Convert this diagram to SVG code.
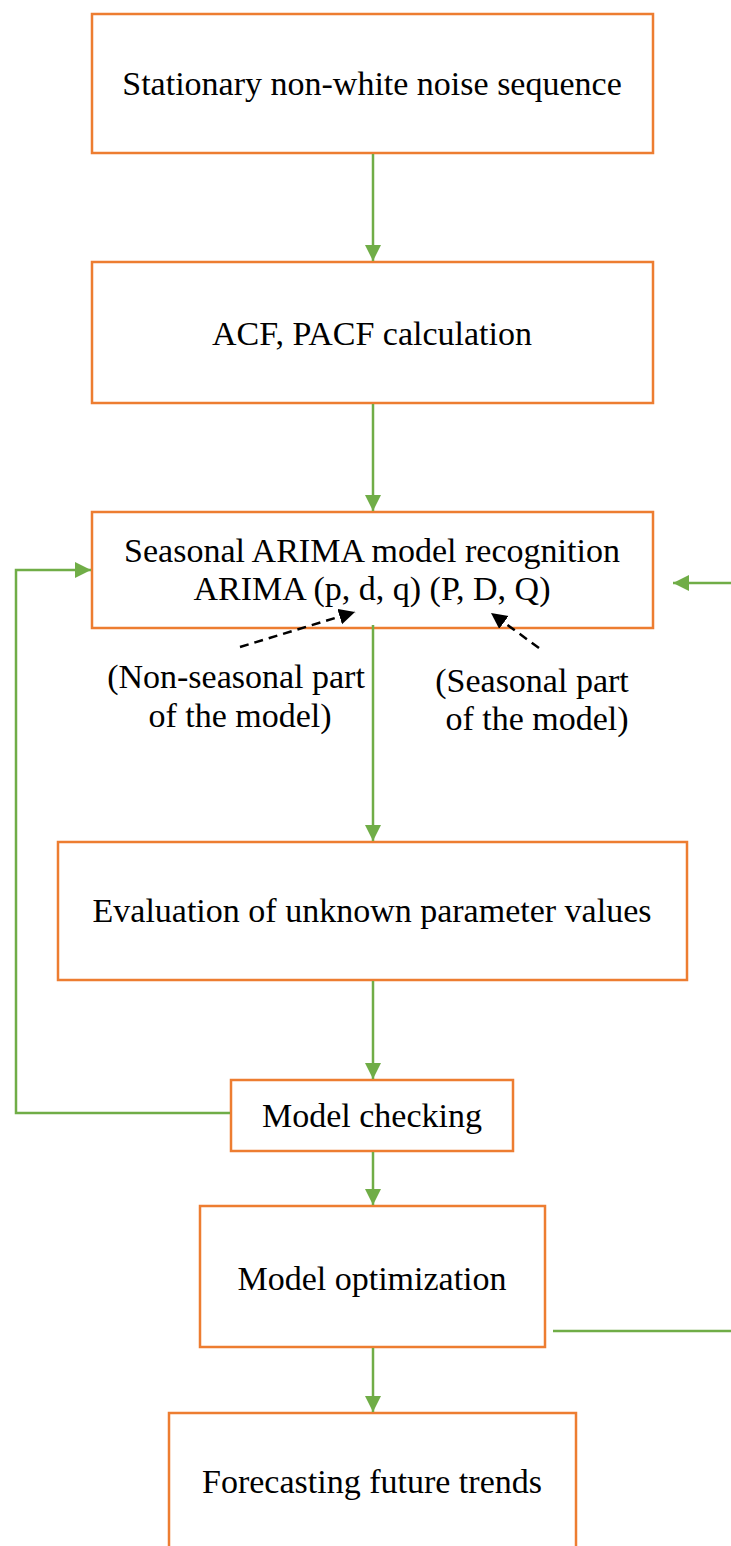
<svg xmlns="http://www.w3.org/2000/svg" width="731" height="1546" viewBox="0 0 731 1546">
<defs>
<style>
.box{fill:#fff;stroke:#ED7D31;stroke-width:2.5}
.t{font-family:"Liberation Serif","Times New Roman",serif;font-size:34px;fill:#000;text-anchor:middle}
.g{fill:none;stroke:#70AD47;stroke-width:2.5}
.d{fill:none;stroke:#000;stroke-width:2.5;stroke-dasharray:9,6}
</style>
<marker id="ga" markerUnits="userSpaceOnUse" markerWidth="18" markerHeight="18" refX="16" refY="8" orient="auto">
<path d="M0,0 L16,8 L0,16 Z" fill="#70AD47"/>
</marker>
<marker id="ba" markerUnits="userSpaceOnUse" markerWidth="18" markerHeight="18" refX="16" refY="8" orient="auto">
<path d="M0,0 L16,8 L0,16 Z" fill="#000"/>
</marker>
</defs>
<rect width="731" height="1546" fill="#fff"/>
<g id="n1"><rect class="box" x="92" y="14" width="561" height="139"/><text class="t" x="372" y="95">Stationary non-white noise sequence</text></g>
<g id="n2"><rect class="box" x="92" y="262" width="561" height="141"/><text class="t" x="372" y="345">ACF, PACF calculation</text></g>
<g id="n3"><rect class="box" x="92" y="512" width="561" height="116"/><text class="t" x="372" y="562">Seasonal ARIMA model recognition</text><text class="t" x="372" y="600">ARIMA (p, d, q) (P, D, Q)</text></g>
<g id="l1"><text class="t" x="236" y="688">(Non-seasonal part</text><text class="t" x="240" y="727">of the model)</text></g>
<g id="l2"><text class="t" x="532" y="692">(Seasonal part</text><text class="t" x="537" y="730">of the model)</text></g>
<g id="n4"><rect class="box" x="58" y="842" width="629" height="138"/><text class="t" x="372" y="922">Evaluation of unknown parameter values</text></g>
<g id="n5"><rect class="box" x="231" y="1080" width="282" height="71"/><text class="t" x="372" y="1127">Model checking</text></g>
<g id="n6"><rect class="box" x="200" y="1206" width="345" height="141"/><text class="t" x="372" y="1290">Model optimization</text></g>
<g id="n7"><rect class="box" x="169" y="1413" width="407" height="160"/><text class="t" x="372" y="1493">Forecasting future trends</text></g>
<g id="connectors">
<line class="g" x1="373" y1="154" x2="373" y2="261" marker-end="url(#ga)"/>
<line class="g" x1="373" y1="404" x2="373" y2="511" marker-end="url(#ga)"/>
<line class="g" x1="373" y1="625" x2="373" y2="841" marker-end="url(#ga)"/>
<line class="g" x1="373" y1="981" x2="373" y2="1079" marker-end="url(#ga)"/>
<line class="g" x1="373" y1="1152" x2="373" y2="1205" marker-end="url(#ga)"/>
<line class="g" x1="373" y1="1348" x2="373" y2="1412" marker-end="url(#ga)"/>
<polyline class="g" points="230,1113 16,1113 16,570 91,570" marker-end="url(#ga)"/>
<line class="g" x1="731" y1="583" x2="673" y2="583" marker-end="url(#ga)"/>
<line class="g" x1="553" y1="1331" x2="731" y2="1331"/>
<line class="d" x1="240" y1="647" x2="355" y2="612" marker-end="url(#ba)"/>
<line class="d" x1="539" y1="648" x2="491" y2="613" marker-end="url(#ba)"/>
</g>
</svg>
